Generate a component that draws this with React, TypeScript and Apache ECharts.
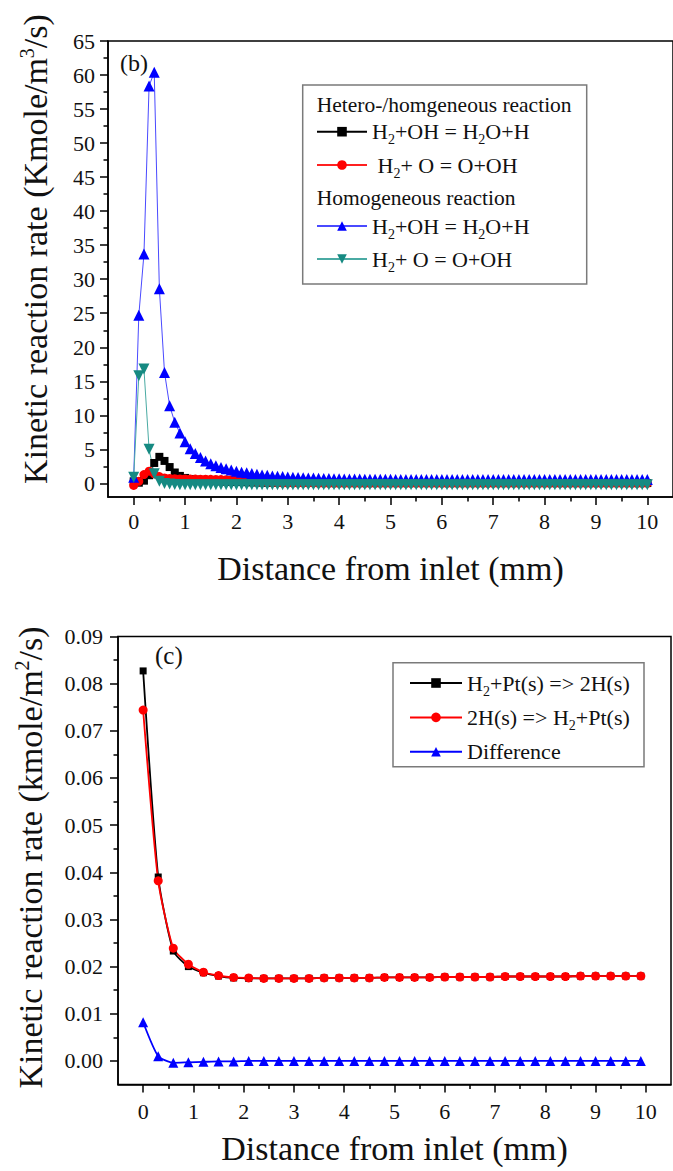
import React, { useEffect, useRef } from "react";
import * as echarts from "echarts";

const FONT = "'Liberation Serif', 'Times New Roman', serif";
const INK = "#111";

// ---------- Panel (b) data ----------
const TOP_X = [
  0, 0.1, 0.2, 0.3, 0.4, 0.5, 0.6, 0.7, 0.8, 0.9,
  1, 1.1, 1.2, 1.3, 1.4, 1.5, 1.6, 1.7, 1.8, 1.9,
  2, 2.1, 2.2, 2.3, 2.4, 2.5, 2.6, 2.7, 2.8, 2.9,
  3, 3.1, 3.2, 3.3, 3.4, 3.5, 3.6, 3.7, 3.8, 3.9,
  4, 4.1, 4.2, 4.3, 4.4, 4.5, 4.6, 4.7, 4.8, 4.9,
  5, 5.1, 5.2, 5.3, 5.4, 5.5, 5.6, 5.7, 5.8, 5.9,
  6, 6.1, 6.2, 6.3, 6.4, 6.5, 6.6, 6.7, 6.8, 6.9,
  7, 7.1, 7.2, 7.3, 7.4, 7.5, 7.6, 7.7, 7.8, 7.9,
  8, 8.1, 8.2, 8.3, 8.4, 8.5, 8.6, 8.7, 8.8, 8.9,
  9, 9.1, 9.2, 9.3, 9.4, 9.5, 9.6, 9.7, 9.8, 9.9,
  10,
];

// Hetero-/homogeneous: H2+OH = H2O+H
const HET_OH = [
  0.3, 0.1, 0.4, 1.2, 3.0, 3.9, 3.3, 2.4, 1.6, 1.1,
  0.8, 0.65, 0.55, 0.48, 0.42, 0.38, 0.34, 0.3, 0.27, 0.24,
  0.22, 0.2, 0.18, 0.16, 0.15, 0.13, 0.12, 0.11, 0.1, 0.09,
  0.08, 0.08, 0.07, 0.07, 0.07, 0.06, 0.06, 0.06, 0.06, 0.05,
  0.05, 0.05, 0.05, 0.05, 0.05, 0.05, 0.05, 0.05, 0.05, 0.05,
  0.05, 0.05, 0.05, 0.05, 0.05, 0.05, 0.05, 0.05, 0.05, 0.05,
  0.05, 0.05, 0.05, 0.05, 0.05, 0.05, 0.05, 0.05, 0.05, 0.05,
  0.05, 0.05, 0.05, 0.05, 0.05, 0.05, 0.05, 0.05, 0.05, 0.05,
  0.05, 0.05, 0.05, 0.05, 0.05, 0.05, 0.05, 0.05, 0.05, 0.05,
  0.05, 0.05, 0.05, 0.05, 0.05, 0.05, 0.05, 0.05, 0.05, 0.05,
  0.05,
];

// Hetero-/homogeneous: H2+O = O+OH
const HET_O = [
  -0.3, 0.3, 1.3, 1.8, 1.4, 1.0, 0.8, 0.72, 0.68, 0.66,
  0.65, 0.64, 0.63, 0.62, 0.61, 0.6, 0.58, 0.56, 0.54, 0.52,
  0.5, 0.45, 0.38, 0.3, 0.24, 0.18, 0.14, 0.11, 0.08, 0.06,
  0.05, 0.04, 0.04, 0.03, 0.03, 0.03, 0.02, 0.02, 0.02, 0.02,
  0.02, 0.02, 0.02, 0.02, 0.02, 0.02, 0.02, 0.02, 0.02, 0.02,
  0.02, 0.02, 0.02, 0.02, 0.02, 0.02, 0.02, 0.02, 0.02, 0.02,
  0.02, 0.02, 0.02, 0.02, 0.02, 0.02, 0.02, 0.02, 0.02, 0.02,
  0.02, 0.02, 0.02, 0.02, 0.02, 0.02, 0.02, 0.02, 0.02, 0.02,
  0.02, 0.02, 0.02, 0.02, 0.02, 0.02, 0.02, 0.02, 0.02, 0.02,
  0.02, 0.02, 0.02, 0.02, 0.02, 0.02, 0.02, 0.02, 0.02, 0.02,
  0.02,
];

// Homogeneous: H2+OH = H2O+H
const HOM_OH = [
  0.9, 24.7, 33.7, 58.4, 60.4, 28.6, 16.3, 11.4, 9.0, 7.4,
  6.1, 5.1, 4.4, 3.8, 3.3, 2.9, 2.6, 2.35, 2.15, 1.95,
  1.8, 1.65, 1.55, 1.45, 1.35, 1.25, 1.18, 1.1, 1.05, 1.0,
  0.95, 0.9, 0.87, 0.84, 0.8, 0.78, 0.75, 0.73, 0.71, 0.69,
  0.67, 0.66, 0.65, 0.64, 0.63, 0.62, 0.61, 0.6, 0.6, 0.59,
  0.59, 0.58, 0.58, 0.58, 0.58, 0.58, 0.58, 0.58, 0.58, 0.58,
  0.58, 0.57, 0.57, 0.57, 0.57, 0.57, 0.57, 0.57, 0.57, 0.57,
  0.57, 0.57, 0.57, 0.57, 0.57, 0.57, 0.57, 0.57, 0.57, 0.57,
  0.57, 0.56, 0.56, 0.56, 0.56, 0.56, 0.56, 0.56, 0.56, 0.56,
  0.56, 0.56, 0.56, 0.56, 0.56, 0.56, 0.56, 0.56, 0.56, 0.56,
  0.56,
];

// Homogeneous: H2+O = O+OH
const HOM_O = [
  0.9, 15.8, 16.8, 5.0, 1.4, 0.3, 0.0, -0.1, -0.15, -0.2,
  -0.2, -0.2, -0.2, -0.2, -0.2, -0.2, -0.2, -0.2, -0.2, -0.2,
  -0.2, -0.2, -0.2, -0.2, -0.2, -0.2, -0.2, -0.2, -0.2, -0.2,
  -0.2, -0.2, -0.2, -0.2, -0.2, -0.2, -0.2, -0.2, -0.2, -0.2,
  -0.2, -0.2, -0.2, -0.2, -0.2, -0.2, -0.2, -0.2, -0.2, -0.2,
  -0.2, -0.2, -0.2, -0.2, -0.2, -0.2, -0.2, -0.2, -0.2, -0.2,
  -0.2, -0.2, -0.2, -0.2, -0.2, -0.2, -0.2, -0.2, -0.2, -0.2,
  -0.2, -0.2, -0.2, -0.2, -0.2, -0.2, -0.2, -0.2, -0.2, -0.2,
  -0.2, -0.2, -0.2, -0.2, -0.2, -0.2, -0.2, -0.2, -0.2, -0.2,
  -0.2, -0.2, -0.2, -0.2, -0.2, -0.2, -0.2, -0.2, -0.2, -0.2,
  -0.2,
];

// ---------- Panel (c) data ----------
const BOT_X = [
  0, 0.3, 0.6, 0.9, 1.2, 1.5, 1.8, 2.1, 2.4, 2.7,
  3.0, 3.3, 3.6, 3.9, 4.2, 4.5, 4.8, 5.1, 5.4, 5.7,
  6.0, 6.3, 6.6, 6.9, 7.2, 7.5, 7.8, 8.1, 8.4, 8.7,
  9.0, 9.3, 9.6, 9.9,
];
const ADSORB = [
  0.0827, 0.039, 0.0233, 0.02, 0.0187, 0.018, 0.0176, 0.0175, 0.0175, 0.0175,
  0.0175, 0.0175, 0.0176, 0.0176, 0.0176, 0.0176, 0.0177, 0.0177, 0.0177, 0.0177,
  0.0178, 0.0178, 0.0178, 0.0178, 0.0179, 0.0179, 0.0179, 0.0179, 0.0179, 0.018,
  0.018, 0.018, 0.018, 0.018,
];
const DESORB = [
  0.0744, 0.0382, 0.0239, 0.0205, 0.0188, 0.0181, 0.0177, 0.0176, 0.0175, 0.0175,
  0.0175, 0.0175, 0.0176, 0.0176, 0.0176, 0.0176, 0.0177, 0.0177, 0.0177, 0.0177,
  0.0178, 0.0178, 0.0178, 0.0178, 0.0179, 0.0179, 0.0179, 0.0179, 0.0179, 0.018,
  0.018, 0.018, 0.018, 0.018,
];
const DIFF = [
  0.0082, 0.001, -0.0004, -0.0003, -0.0002, -0.0001, -0.0001, 0, 0, 0,
  0, 0, 0, 0, 0, 0, 0, 0, 0, 0,
  0, 0, 0, 0, 0, 0, 0, 0, 0, 0,
  0, 0, 0, 0,
];

// ---------- Tick values ----------
const X_TICKS = [0, 1, 2, 3, 4, 5, 6, 7, 8, 9, 10];
const X_MINOR = [0.5, 1.5, 2.5, 3.5, 4.5, 5.5, 6.5, 7.5, 8.5, 9.5];
const TOP_Y_TICKS = [0, 5, 10, 15, 20, 25, 30, 35, 40, 45, 50, 55, 60, 65];
const TOP_Y_MINOR = [2.5, 7.5, 12.5, 17.5, 22.5, 27.5, 32.5, 37.5, 42.5, 47.5, 52.5, 57.5, 62.5];
const BOT_Y_TICKS = [0, 0.01, 0.02, 0.03, 0.04, 0.05, 0.06, 0.07, 0.08, 0.09];
const BOT_Y_MINOR = [0.005, 0.015, 0.025, 0.035, 0.045, 0.055, 0.065, 0.075, 0.085];

const LEGEND_LABELS: Record<string, string> = {
  het1: "{n|H}{s|2}{n|+OH = H}{s|2}{n|O+H}",
  het2: "{n| H}{s|2}{n|+ O = O+OH}",
  hom1: "{n|H}{s|2}{n|+OH = H}{s|2}{n|O+H}",
  hom2: "{n|H}{s|2}{n|+ O = O+OH}",
  c1: "{n|H}{s|2}{n|+Pt(s) => 2H(s)}",
  c2: "{n|2H(s) => H}{s|2}{n|+Pt(s)}",
  c3: "{n|Difference}",
};

const pairs = (xs: number[], ys: number[]) => xs.map((x, i) => [x, ys[i]]);

const AXIS_LINE = { color: "#000", width: 1.5 };
const TICK_FONT = 22;

function xMain(gridIndex: number, nameGap: number, margin: number) {
  return {
    type: "value",
    gridIndex,
    min: -0.5,
    max: 10.5,
    position: "bottom",
    name: "Distance from inlet (mm)",
    nameLocation: "middle",
    nameGap,
    nameTextStyle: { fontFamily: FONT, fontSize: 34, color: INK },
    axisLine: { show: true, onZero: false, lineStyle: AXIS_LINE },
    axisTick: { show: true, inside: false, length: 8, customValues: X_TICKS, lineStyle: AXIS_LINE },
    axisLabel: { customValues: X_TICKS, margin, fontFamily: FONT, fontSize: TICK_FONT, color: INK },
    splitLine: { show: false },
  };
}
function xMinor(gridIndex: number) {
  return {
    type: "value",
    gridIndex,
    min: -0.5,
    max: 10.5,
    position: "bottom",
    axisLine: { show: false, onZero: false },
    axisTick: { show: true, inside: false, length: 4.5, customValues: X_MINOR, lineStyle: AXIS_LINE },
    axisLabel: { show: false },
    splitLine: { show: false },
  };
}
function yMinor(gridIndex: number, min: number, max: number, values: number[]) {
  return {
    type: "value",
    gridIndex,
    min,
    max,
    position: "left",
    axisLine: { show: false, onZero: false },
    axisTick: { show: true, inside: false, length: 4.5, customValues: values, lineStyle: AXIS_LINE },
    axisLabel: { show: false },
    splitLine: { show: false },
  };
}

const legendText = {
  fontFamily: FONT,
  fontSize: 22,
  color: INK,
  lineHeight: 30,
  rich: {
    n: { fontFamily: FONT, fontSize: 22, color: INK, lineHeight: 30 },
    s: { fontFamily: FONT, fontSize: 14, color: INK, lineHeight: 14, verticalAlign: "bottom" },
  },
};

const yNameStyle = (pad: number) => ({
  fontFamily: FONT,
  fontSize: 34,
  color: INK,
  padding: [0, 0, 0, pad],
  rich: {
    n: { fontFamily: FONT, fontSize: 34, color: INK, lineHeight: 36 },
    p: { fontFamily: FONT, fontSize: 20, color: INK, lineHeight: 20, verticalAlign: "top" },
  },
});

function buildOption() {
  return {
    animation: false,
    backgroundColor: "#fff",
    grid: [
      { left: 108, top: 41, width: 570, height: 456, show: true, borderColor: "#000", borderWidth: 1.5, backgroundColor: "transparent" },
      { left: 118, top: 636.5, width: 553, height: 448, show: true, borderColor: "#000", borderWidth: 1.5, backgroundColor: "transparent" },
    ],
    xAxis: [xMain(0, 54, 13), xMain(1, 47, 15.5), xMinor(0), xMinor(1)],
    yAxis: [
      {
        type: "value",
        gridIndex: 0,
        min: -2,
        max: 65,
        position: "left",
        name: "{n|Kinetic reaction rate (Kmole/m}{p|3}{n|/s)}",
        nameLocation: "middle",
        nameGap: 55,
        nameTextStyle: yNameStyle(40),
        axisLine: { show: true, onZero: false, lineStyle: AXIS_LINE },
        axisTick: { show: true, inside: false, length: 8, customValues: TOP_Y_TICKS, lineStyle: AXIS_LINE },
        axisLabel: { customValues: TOP_Y_TICKS, margin: 13, fontFamily: FONT, fontSize: TICK_FONT, color: INK },
        splitLine: { show: false },
      },
      {
        type: "value",
        gridIndex: 1,
        min: -0.005,
        max: 0.09,
        position: "left",
        name: "{n|Kinetic reaction rate (kmole/m}{p|2}{n|/s)}",
        nameLocation: "middle",
        nameGap: 70,
        nameTextStyle: yNameStyle(6),
        axisLine: { show: true, onZero: false, lineStyle: AXIS_LINE },
        axisTick: { show: true, inside: false, length: 8, customValues: BOT_Y_TICKS, lineStyle: AXIS_LINE },
        axisLabel: {
          customValues: BOT_Y_TICKS,
          margin: 15,
          fontFamily: FONT,
          fontSize: TICK_FONT,
          color: INK,
          formatter: (v: number) => v.toFixed(2),
        },
        splitLine: { show: false },
      },
      yMinor(0, -2, 65, TOP_Y_MINOR),
      yMinor(1, -0.005, 0.09, BOT_Y_MINOR),
    ],
    legend: [
      {
        data: ["het1", "het2"],
        left: 316,
        top: 116.7,
        orient: "vertical",
        padding: 0,
        itemWidth: 50,
        itemHeight: 12,
        itemGap: 3.3,
        selectedMode: false,
        formatter: (name: string) => LEGEND_LABELS[name],
        textStyle: legendText,
      },
      {
        data: ["hom1", "hom2"],
        left: 316,
        top: 211,
        orient: "vertical",
        padding: 0,
        itemWidth: 50,
        itemHeight: 12,
        itemGap: 3,
        selectedMode: false,
        formatter: (name: string) => LEGEND_LABELS[name],
        textStyle: legendText,
      },
      {
        data: ["c1", "c2", "c3"],
        left: 409,
        top: 668,
        orient: "vertical",
        padding: 0,
        itemWidth: 52,
        itemHeight: 12,
        itemGap: 4.4,
        selectedMode: false,
        formatter: (name: string) => LEGEND_LABELS[name],
        textStyle: legendText,
      },
    ],
    graphic: [
      { type: "rect", silent: true, shape: { x: 302.7, y: 85, width: 284, height: 199 }, style: { fill: "none", stroke: "#7a7a7a", lineWidth: 1.5 } },
      { type: "text", silent: true, x: 316.7, y: 105, style: { text: "Hetero-/homgeneous reaction", fontFamily: FONT, fontSize: 21.5, fill: INK, verticalAlign: "middle" } },
      { type: "text", silent: true, x: 316.7, y: 198.3, style: { text: "Homogeneous reaction", fontFamily: FONT, fontSize: 21.5, fill: INK, verticalAlign: "middle" } },
      { type: "text", silent: true, x: 120, y: 63, style: { text: "(b)", fontFamily: FONT, fontSize: 24, fill: INK, verticalAlign: "middle" } },
      { type: "rect", silent: true, shape: { x: 393, y: 662.7, width: 251, height: 104 }, style: { fill: "none", stroke: "#7a7a7a", lineWidth: 1.5 } },
      { type: "text", silent: true, x: 155, y: 655, style: { text: "(c)", fontFamily: FONT, fontSize: 25, fill: INK, verticalAlign: "middle" } },
    ],
    series: [
      {
        name: "het1", type: "line", xAxisIndex: 0, yAxisIndex: 0,
        data: pairs(TOP_X, HET_OH), symbol: "rect", symbolSize: 8,
        itemStyle: { color: "#000" }, lineStyle: { color: "#000", width: 1 },
      },
      {
        name: "het2", type: "line", xAxisIndex: 0, yAxisIndex: 0,
        data: pairs(TOP_X, HET_O), symbol: "circle", symbolSize: 9,
        itemStyle: { color: "#ff0000" }, lineStyle: { color: "#ff2020", width: 1 },
      },
      {
        name: "hom1", type: "line", xAxisIndex: 0, yAxisIndex: 0,
        data: pairs(TOP_X, HOM_OH), symbol: "triangle", symbolSize: 11,
        itemStyle: { color: "#0000ff" }, lineStyle: { color: "#4a4aff", width: 1 },
      },
      {
        name: "hom2", type: "line", xAxisIndex: 0, yAxisIndex: 0,
        data: pairs(TOP_X, HOM_O), symbol: "triangle", symbolRotate: 180, symbolSize: 11,
        itemStyle: { color: "#168a82" }, lineStyle: { color: "#4aaaa3", width: 1 },
      },
      {
        name: "c1", type: "line", xAxisIndex: 1, yAxisIndex: 1,
        data: pairs(BOT_X, ADSORB), symbol: "rect", symbolSize: 7, smooth: 0.2,
        itemStyle: { color: "#000" }, lineStyle: { color: "#000", width: 1.8 },
      },
      {
        name: "c2", type: "line", xAxisIndex: 1, yAxisIndex: 1,
        data: pairs(BOT_X, DESORB), symbol: "circle", symbolSize: 9, smooth: 0.2,
        itemStyle: { color: "#ff0000" }, lineStyle: { color: "#ff0000", width: 1.8 },
      },
      {
        name: "c3", type: "line", xAxisIndex: 1, yAxisIndex: 1,
        data: pairs(BOT_X, DIFF), symbol: "triangle", symbolSize: 10, smooth: 0.2,
        itemStyle: { color: "#0000ff" }, lineStyle: { color: "#0000ff", width: 1.8 },
      },
    ],
  };
}

export default function App() {
  const ref = useRef<HTMLDivElement>(null);
  useEffect(() => {
    if (!ref.current) return;
    const chart = echarts.init(ref.current, null, { renderer: "svg" });
    chart.setOption(buildOption() as any);
    return () => chart.dispose();
  }, []);
  return (
    <div
      ref={ref}
      style={{ position: "absolute", left: 0, top: 0, width: 673, height: 1171, background: "#fff" }}
    />
  );
}
